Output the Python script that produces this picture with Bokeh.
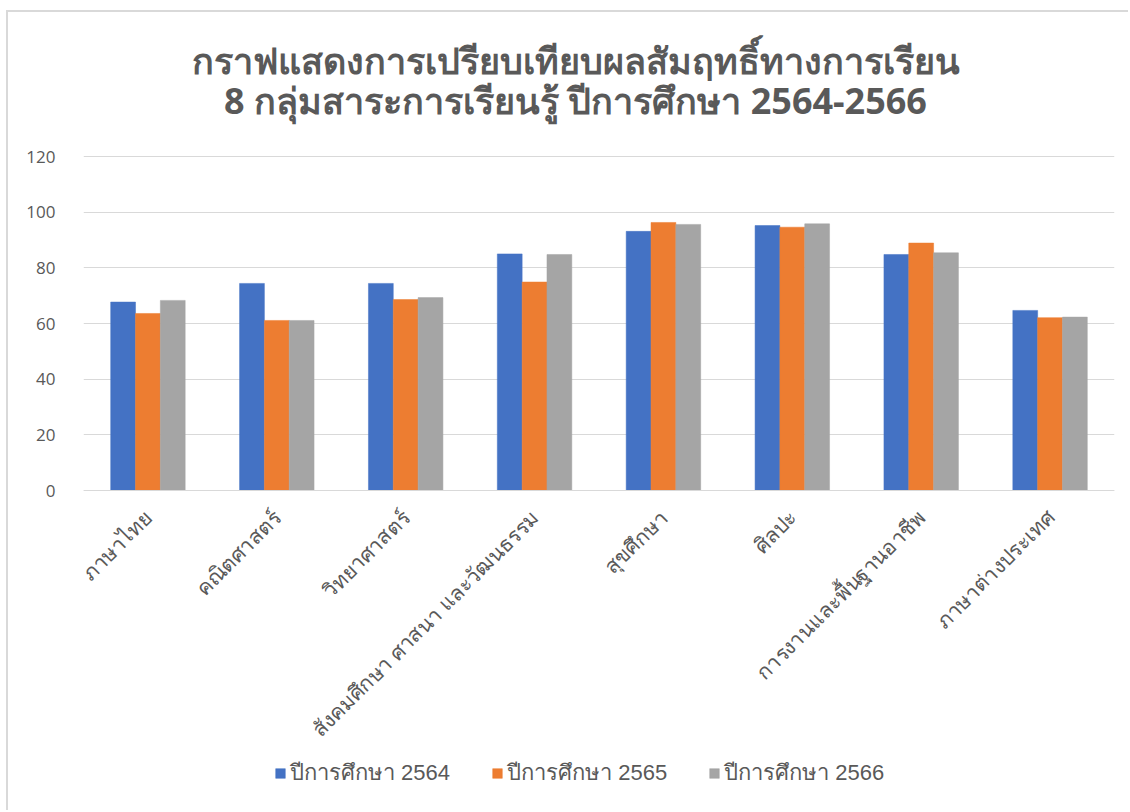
from math import pi
from bokeh.plotting import figure
from bokeh.models import (FactorRange, Range1d, Label, Legend, LegendItem, FixedTicker)
from bokeh.transform import dodge
from bokeh.embed import file_html
from bokeh.resources import INLINE

categories = ["ภาษาไทย", "คณิตศาสตร์", "วิทยาศาสตร์", "สังคมศึกษา ศาสนา และวัฒนธรรม",
              "สุขศึกษา", "ศิลปะ", "การงานและพื้นฐานอาชีพ", "ภาษาต่างประเทศ"]
y2564 = [67.7, 74.4, 74.4, 85.0, 93.1, 95.2, 84.8, 64.7]
y2565 = [63.6, 61.1, 68.6, 74.9, 96.3, 94.6, 88.9, 62.1]
y2566 = [68.3, 61.1, 69.3, 84.8, 95.6, 95.8, 85.4, 62.3]
series_names = ["ปีการศึกษา 2564", "ปีการศึกษา 2565", "ปีการศึกษา 2566"]
colors = ["#4472C4", "#ED7D31", "#A5A5A5"]
title_lines = ["กราฟแสดงการเปรียบเทียบผลสัมฤทธิ์ทางการเรียน",
               "8 กลุ่มสาระการเรียนรู้ ปีการศึกษา 2564-2566"]
y_ticks = [0, 20, 40, 60, 80, 100, 120]

data = {"cat": categories, "s0": y2564, "s1": y2565, "s2": y2566}

# canvas is offset by the CSS border/margin (8, 12)
OX, OY = 8, 12
W, H = 1130 - OX, 812 - OY
frame_left, frame_right = 83 - OX, 1114 - OX
y0_pix, y120_pix = 490 - OY, 156 - OY
ppu = (y0_pix - y120_pix) / 120.0
y_end = 120 + y120_pix / ppu
y_start = -(H - y0_pix) / ppu

p = figure(x_range=FactorRange(*categories, range_padding=0), y_range=Range1d(y_start, y_end),
           width=W, height=H, output_backend="svg", toolbar_location=None,
           min_border_left=frame_left, min_border_right=W - frame_right,
           min_border_top=0, min_border_bottom=0)
p.styles = {"margin-left": "6px", "margin-top": "10px",
            "border-left": "2px solid #d9d9d9", "border-top": "2px solid #d9d9d9"}
p.outline_line_color = None
p.background_fill_color = "white"
p.border_fill_color = "white"

bw = 1 / (3 + 2.19)
renderers = []
for i, key in enumerate(["s0", "s1", "s2"]):
    r = p.vbar(x=dodge("cat", (i - 1) * bw, range=p.x_range), top=key, width=bw,
               source=data, fill_color=colors[i], line_color=colors[i], line_width=0.5)
    renderers.append(r)

p.xgrid.grid_line_color = None
p.ygrid.grid_line_color = "#d9d9d9"
p.ygrid.grid_line_width = 1
p.yaxis.ticker = FixedTicker(ticks=y_ticks)
p.ygrid.ticker = FixedTicker(ticks=y_ticks)
p.yaxis.axis_line_color = None
p.yaxis.major_tick_line_color = None
p.yaxis.minor_tick_line_color = None
p.yaxis.major_label_text_font = "Open Sans"
p.yaxis.major_label_text_font_size = "17px"
p.yaxis.major_label_text_color = "#595959"
p.yaxis.major_label_standoff = 22

p.xaxis.fixed_location = 0
p.xaxis.axis_line_color = "#d9d9d9"
p.xaxis.axis_line_width = 1
p.xaxis.major_tick_line_color = None
p.xaxis.minor_tick_line_color = None
p.xaxis.major_label_orientation = pi / 4
p.xaxis.major_label_text_font = "Noto Sans"
p.xaxis.major_label_text_font_size = "21px"
p.xaxis.major_label_text_color = "#595959"
p.xaxis.major_label_standoff = 17

unit = (frame_right - frame_left) / len(categories)
def xdata(win_pix):
    return (win_pix - OX - frame_left) / unit
def ydata(win_pix):
    return 120 + (y120_pix - (win_pix - OY)) / ppu

for line, ypix in zip(title_lines, [60, 100]):
    p.add_layout(Label(x=xdata(575), y=ydata(ypix), text=line, text_align="center",
                       text_baseline="middle", text_font="Noto Sans", text_font_style="bold",
                       text_font_size="36px", text_color="#595959"))

legend = Legend(items=[LegendItem(label=n, renderers=[r]) for n, r in zip(series_names, renderers)],
                orientation="horizontal", location=(274 - 83, 812 - 790),
                label_text_font="Liberation Sans", label_text_font_size="22px",
                label_text_color="#595959", glyph_width=12, glyph_height=12,
                label_standoff=4, spacing=41, padding=0, margin=0,
                border_line_color=None, background_fill_alpha=0, label_height=24)
p.add_layout(legend, "center")

open("out.html", "w").write(file_html(p, INLINE))
